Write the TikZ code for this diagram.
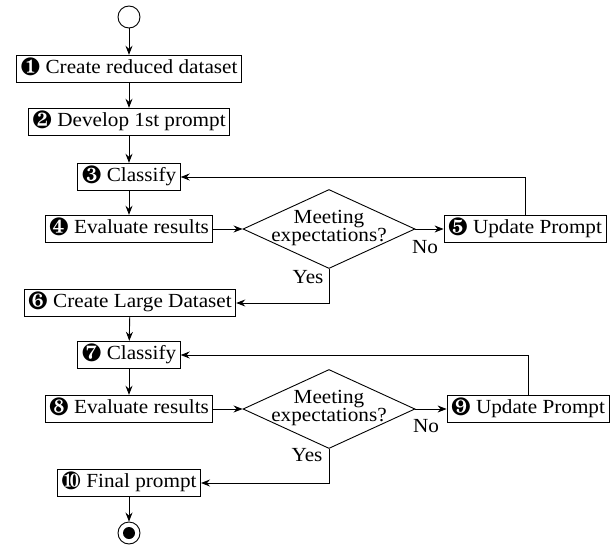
\documentclass[tikz,border=0pt]{standalone}
\usepackage{fontspec}
\usepackage{pifont}
\setmainfont{Liberation Serif}[FakeStretch=1.06]
\usetikzlibrary{shapes.geometric, arrows.meta, calc}

\newcommand{\badge}[1]{{\fontsize{25}{18}\selectfont\raisebox{-1.5pt}{\ding{#1}}}}

\tikzset{
  box/.style={draw, rectangle, line width=0.9pt, inner xsep=4pt, inner ysep=4.5pt, text height=14pt, text depth=4.5pt},
  decision/.style={draw, diamond, line width=0.9pt, inner sep=0pt, minimum width=172pt, minimum height=79pt},
  line/.style={line width=0.9pt, -{Stealth[length=9pt,width=7pt,inset=3pt]}},
  tag/.style={inner sep=0pt}
}

\begin{document}
\begin{tikzpicture}[x=1pt,y=-1pt,font=\fontsize{20}{18.5}\selectfont]
  \useasboundingbox (0,0) rectangle (616,546);

  \node[draw, circle, line width=0.9pt, minimum size=22pt, inner sep=0pt] (start) at (129,17) {};
  \node[box] (reduce) at (129,69) {\badge{182} Create reduced dataset};
  \node[box] (develop) at (129,122) {\badge{183} Develop 1st prompt};
  \node[box] (classA) at (129,177) {\badge{184} Classify};
  \node[box] (evalA) at (129,229) {\badge{185} Evaluate results};
  \node[decision] (meetA) at (329,229) {};
  \node[align=center, inner sep=0pt] (meetAtxt) at (329,228) {Meeting\\expectations?};
  \node[box] (updateA) at (525,229) {\badge{186} Update Prompt};

  \node[box] (large) at (130,303) {\badge{187} Create Large Dataset};
  \node[box] (classB) at (129,355) {\badge{188} Classify};
  \node[box] (evalB) at (129,409) {\badge{189} Evaluate results};
  \node[decision] (meetB) at (329,409) {};
  \node[align=center, inner sep=0pt] (meetBtxt) at (329,408) {Meeting\\expectations?};
  \node[box] (updateB) at (528,409) {\badge{190} Update Prompt};
  \node[box] (final) at (129,483) {\badge{191} Final prompt};

  \node[draw, circle, line width=0.9pt, minimum size=22pt, inner sep=0pt] (stop) at (129,533) {};
  \node[circle, fill=black, minimum size=12pt, inner sep=0pt] (stopdot) at (stop) {};

  \node[tag] (noA) at (425,247) {No};
  \node[tag] (yesA) at (308,277) {Yes};
  \node[tag] (noB) at (426,426) {No};
  \node[tag] (yesB) at (307,455) {Yes};

  \draw[line] (start) -- (reduce);
  \draw[line] (reduce) -- (develop);
  \draw[line] (develop) -- (classA);
  \draw[line] (classA) -- (evalA);
  \draw[line] (evalA) -- (meetA.west);
  \draw[line] (meetA.east) -- (updateA);
  \draw[line] (updateA.north) |- (classA.east);
  \draw[line] (meetA.south) |- (large.east);

  \draw[line] (large) -- (classB);
  \draw[line] (classB) -- (evalB);
  \draw[line] (evalB) -- (meetB.west);
  \draw[line] (meetB.east) -- (updateB);
  \draw[line] (updateB.north) |- (classB.east);
  \draw[line] (meetB.south) |- (final.east);
  \draw[line] (final) -- (stop);
\end{tikzpicture}
\end{document}
